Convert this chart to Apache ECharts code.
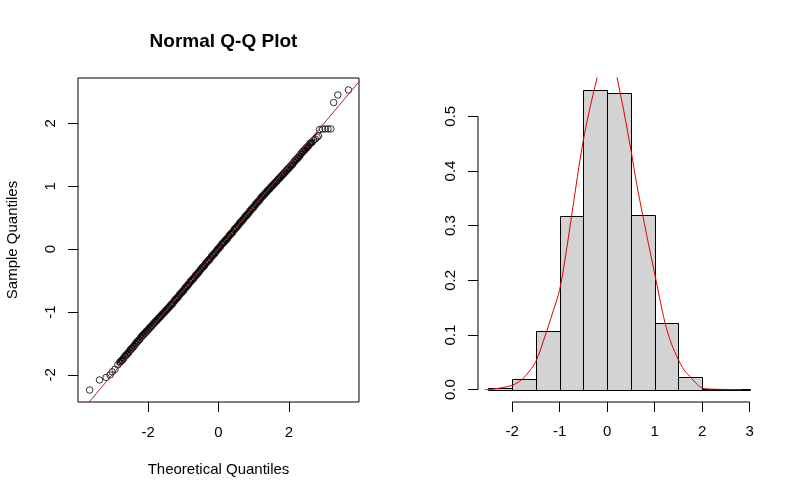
<!DOCTYPE html>
<html>
<head>
<meta charset="utf-8">
<script src="https://cdn.jsdelivr.net/npm/echarts@6.0.0/dist/echarts.min.js"></script>
<style>
  html, body { margin: 0; padding: 0; background: #fff; }
  #main { width: 800px; height: 500px; }
</style>
</head>
<body>
<div id="main"></div>
<script>
// Q-Q plot: dense body of the sample (theoretical vs sample quantiles)
var qqTheoBody = [-2.80,-2.75,-2.70,-2.65,-2.60,-2.55,-2.50,-2.45,-2.40,-2.35,-2.30,-2.25,-2.20,-2.15,-2.10,-2.05,-2.00,-1.95,-1.90,-1.85,-1.80,-1.75,-1.70,-1.65,-1.60,-1.55,-1.50,-1.45,-1.40,-1.35,-1.30,-1.25,-1.20,-1.15,-1.10,-1.05,-1.00,-0.95,-0.90,-0.85,-0.80,-0.75,-0.70,-0.65,-0.60,-0.55,-0.50,-0.45,-0.40,-0.35,-0.30,-0.25,-0.20,-0.15,-0.10,-0.05,0.00,0.05,0.10,0.15,0.20,0.25,0.30,0.35,0.40,0.45,0.50,0.55,0.60,0.65,0.70,0.75,0.80,0.85,0.90,0.95,1.00,1.05,1.10,1.15,1.20,1.25,1.30,1.35,1.40,1.45,1.50,1.55,1.60,1.65,1.70,1.75,1.80,1.85,1.90,1.95,2.00,2.05,2.10,2.15,2.20,2.25,2.30,2.35,2.40,2.45,2.50,2.55,2.60,2.65];
var qqSampleBody = [-1.80,-1.77,-1.74,-1.70,-1.67,-1.64,-1.60,-1.57,-1.54,-1.50,-1.47,-1.44,-1.40,-1.37,-1.34,-1.31,-1.28,-1.25,-1.22,-1.19,-1.16,-1.13,-1.10,-1.07,-1.04,-1.01,-0.98,-0.95,-0.92,-0.89,-0.86,-0.82,-0.79,-0.76,-0.72,-0.69,-0.66,-0.62,-0.59,-0.56,-0.52,-0.49,-0.46,-0.42,-0.39,-0.36,-0.32,-0.29,-0.26,-0.22,-0.19,-0.16,-0.12,-0.09,-0.06,-0.02,0.01,0.04,0.08,0.11,0.14,0.17,0.21,0.24,0.27,0.31,0.34,0.37,0.41,0.44,0.47,0.51,0.54,0.57,0.61,0.64,0.67,0.71,0.74,0.77,0.81,0.84,0.87,0.90,0.93,0.96,0.99,1.02,1.05,1.08,1.11,1.14,1.17,1.20,1.23,1.26,1.29,1.32,1.35,1.39,1.42,1.45,1.48,1.52,1.55,1.58,1.61,1.64,1.68,1.70];
// Q-Q plot: sparse tails
var qqTheoTail = [-3.66,-3.38,-3.19,-3.08,-3.02,-2.94,-2.86,2.70,2.75,2.80,2.84,2.87,2.95,3.03,3.11,3.19,3.27,3.39,3.69];
var qqSampleTail = [-2.24,-2.08,-2.04,-2.00,-1.95,-1.91,-1.84,1.73,1.75,1.78,1.80,1.90,1.91,1.91,1.91,1.91,2.33,2.45,2.53];
var qqLineX = [-3.99, 3.99];
var qqLineY = [-2.64, 2.66];
var qqXTicks = [-2, 0, 2];
var qqYTicks = [-2, -1, 0, 1, 2];

// histogram (density scale) and fitted curve
var histBreaks = [-2.5, -2, -1.5, -1, -0.5, 0, 0.5, 1, 1.5, 2, 2.5, 3];
var histDensity = [0.003, 0.0195, 0.107, 0.318, 0.548, 0.543, 0.319, 0.122, 0.0235, 0.0008, 0.0005];
var densX = [-2.58,-2.4,-2.2,-2.0,-1.85,-1.7,-1.5,-1.3,-1.15,-1.0,-0.875,-0.75,-0.625,-0.5,-0.35,-0.2,-0.1,0,0.1,0.2,0.35,0.5,0.625,0.75,0.875,1.0,1.1,1.22,1.35,1.5,1.62,1.75,1.87,2.0,2.2,2.5,2.84];
var densY = [0,0.001,0.004,0.008,0.015,0.027,0.052,0.1,0.14,0.183,0.245,0.317,0.39,0.457,0.52,0.575,0.62,0.64,0.62,0.575,0.51,0.439,0.375,0.319,0.265,0.213,0.17,0.122,0.085,0.055,0.036,0.024,0.012,0.003,0.001,0.0005,0];
var histXTicks = [-2, -1, 0, 1, 2, 3];
var histYTicks = [0, 0.1, 0.2, 0.3, 0.4, 0.5];

var FONT = '"Liberation Sans", Arial, sans-serif';

function zip(a, b) {
  var out = [];
  for (var i = 0; i < a.length; i++) out.push([a[i], b[i]]);
  return out;
}

var histData = [];
for (var i = 0; i < histDensity.length; i++) {
  histData.push([histBreaks[i], histBreaks[i + 1], histDensity[i]]);
}

function renderBar(params, api) {
  var top = api.coord([api.value(0), api.value(2)]);
  var bot = api.coord([api.value(1), 0]);
  var x0 = Math.round(top[0]) + 0.5, x1 = Math.round(bot[0]) + 0.5;
  var y0 = Math.round(top[1]) + 0.5, y1 = Math.round(bot[1]) + 0.5;
  return {
    type: 'rect',
    shape: { x: x0, y: y0, width: x1 - x0, height: y1 - y0 },
    style: { fill: '#d3d3d3', stroke: '#000', lineWidth: 1 }
  };
}

function tickAxis(ticks, fmt) {
  return {
    axisLine: { show: false, onZero: false },
    splitLine: { show: false },
    axisTick: { show: true, length: 10, customValues: ticks, lineStyle: { color: '#000' } },
    axisLabel: { customValues: ticks, color: '#000', fontSize: 15, fontFamily: FONT, formatter: fmt }
  };
}

var qqMin = -3.99, qqMax = 3.99;

var myChart = echarts.init(document.getElementById('main'));
var option = {
  backgroundColor: '#ffffff',
  animation: false,
  title: {
    text: 'Normal Q-Q Plot',
    left: 218.5,
    top: 27,
    textAlign: 'center',
    textStyle: { fontSize: 19, fontWeight: 'bold', color: '#000', fontFamily: FONT }
  },
  grid: [
    { left: 78, top: 78, width: 281, height: 324, show: true, borderColor: '#000', borderWidth: 1, backgroundColor: 'transparent' },
    { left: 478, top: 78, width: 282, height: 324 }
  ],
  xAxis: [
    echarts.util.merge(tickAxis(qqXTicks), {
      gridIndex: 0, type: 'value', min: qqMin, max: qqMax,
      axisLabel: { margin: 23 },
      name: 'Theoretical Quantiles', nameLocation: 'middle', nameGap: 60,
      nameTextStyle: { color: '#000', fontSize: 15, fontFamily: FONT }
    }),
    echarts.util.merge(tickAxis(histXTicks), {
      gridIndex: 1, type: 'value', min: -2.72, max: 3.22,
      axisLabel: { margin: 22 }
    })
  ],
  yAxis: [
    echarts.util.merge(tickAxis(qqYTicks), {
      gridIndex: 0, type: 'value', min: -2.43, max: 2.72,
      axisLabel: { rotate: 90, margin: 20 },
      name: 'Sample Quantiles', nameLocation: 'middle', nameGap: 58,
      nameTextStyle: { color: '#000', fontSize: 15, fontFamily: FONT }
    }),
    echarts.util.merge(tickAxis(histYTicks, function (v) { return v.toFixed(1); }), {
      gridIndex: 1, type: 'value', min: -0.0225, max: 0.57,
      axisLabel: { rotate: 90, margin: 20 }
    })
  ],
  series: [
    {
      name: 'qq body', type: 'scatter', xAxisIndex: 0, yAxisIndex: 0,
      data: zip(qqTheoBody, qqSampleBody),
      symbol: 'circle', symbolSize: 5.5,
      itemStyle: { color: 'rgba(0,0,0,0)', borderColor: '#000', borderWidth: 2 },
      silent: true
    },
    {
      name: 'qq tail', type: 'scatter', xAxisIndex: 0, yAxisIndex: 0,
      data: zip(qqTheoTail, qqSampleTail),
      symbol: 'circle', symbolSize: 6.5,
      itemStyle: { color: 'rgba(0,0,0,0)', borderColor: '#000', borderWidth: 1 },
      silent: true
    },
    {
      name: 'qq line', type: 'line', xAxisIndex: 0, yAxisIndex: 0,
      data: zip(qqLineX, qqLineY), symbol: 'none', clip: true,
      lineStyle: { color: '#a52a2a', width: 1 }, silent: true, z: 5
    },
    {
      name: 'histogram', type: 'custom', xAxisIndex: 1, yAxisIndex: 1,
      data: histData, encode: { x: [0, 1], y: 2 },
      renderItem: renderBar, silent: true
    },
    {
      name: 'density', type: 'line', xAxisIndex: 1, yAxisIndex: 1,
      data: zip(densX, densY), symbol: 'none', smooth: 0.3, clip: true,
      lineStyle: { color: '#e00000', width: 1 }, silent: true, z: 5
    },
    {
      // x axis line, drawn from first to last tick only
      name: 'x axis', type: 'line', xAxisIndex: 1, yAxisIndex: 1,
      data: [[histXTicks[0], -0.0225], [histXTicks[histXTicks.length - 1], -0.0225]],
      symbol: 'none', clip: false, lineStyle: { color: '#000', width: 1 }, silent: true
    },
    {
      // y axis line
      name: 'y axis', type: 'line', xAxisIndex: 1, yAxisIndex: 1,
      data: [[-2.72, histYTicks[0]], [-2.72, histYTicks[histYTicks.length - 1]]],
      symbol: 'none', clip: false, lineStyle: { color: '#000', width: 1 }, silent: true
    }
  ]
};
myChart.setOption(option);
</script>
</body>
</html>
